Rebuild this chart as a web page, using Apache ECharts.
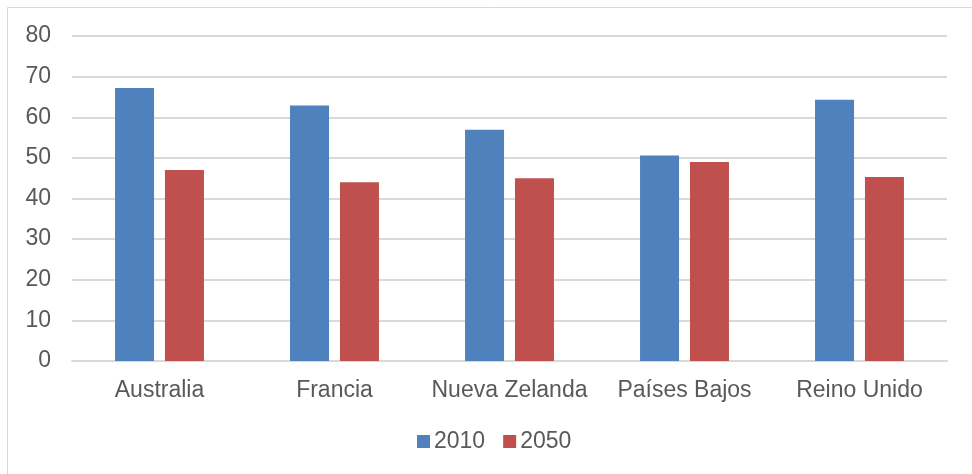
<!DOCTYPE html>
<html>
<head>
<meta charset="utf-8">
<script src="https://cdn.jsdelivr.net/npm/echarts@6/dist/echarts.min.js"></script>
<style>
  html, body { margin: 0; padding: 0; background: #fff; }
  #chart { width: 972px; height: 474px; }
</style>
</head>
<body>
<div id="chart"></div>
<script>
// datos
var categorias = ['Australia', 'Francia', 'Nueva Zelanda', 'Países Bajos', 'Reino Unido'];
var serie2010 = [67.2, 62.9, 56.9, 50.6, 64.3];
var serie2050 = [47.0, 44.0, 45.0, 49.0, 45.3];
var nombres = ['2010', '2050'];

var myChart = echarts.init(document.getElementById('chart'));

var textColor = '#595959';
var fontFam = '"Liberation Sans", Arial, sans-serif';

option = {
    backgroundColor: '#fff',
    animation: false,
    graphic: [
        {
            type: 'rect',
            shape: { x: 7.5, y: 7.5, width: 980, height: 480 },
            style: { fill: 'none', stroke: '#d9d9d9', lineWidth: 1 }
        }
    ],
    legend: {
        data: nombres,
        left: 417,
        top: 430,
        padding: 0,
        itemWidth: 13,
        itemHeight: 13,
        itemGap: 18,
        icon: 'rect',
        textStyle: { color: textColor, fontSize: 23, fontFamily: fontFam, padding: [0, 0, 0, -1] }
    },
    grid: {
        left: 72,
        right: 25,
        top: 36,
        bottom: 113,
        containLabel: false
    },
    xAxis: [
        {
            type: 'category',
            data: categorias,
            axisLine: { show: true, lineStyle: { color: '#d9d9d9', width: 2 } },
            axisTick: { show: false },
            axisLabel: { interval: 0, color: textColor, fontSize: 23, fontFamily: fontFam, margin: 18 }
        }
    ],
    yAxis: [
        {
            type: 'value',
            min: 0,
            max: 80,
            interval: 10,
            axisLine: { show: false },
            axisTick: { show: false },
            splitLine: { lineStyle: { color: '#d9d9d9', width: 2 } },
            axisLabel: { color: textColor, fontSize: 23, fontFamily: fontFam, margin: 21 }
        }
    ],
    series: [
        {
            name: nombres[0],
            type: 'bar',
            data: serie2010,
            barWidth: 39,
            barGap: '28%',
            itemStyle: { color: '#4f81bd' }
        },
        {
            name: nombres[1],
            type: 'bar',
            data: serie2050,
            barWidth: 39,
            itemStyle: { color: '#c0504d' }
        }
    ]
};
myChart.setOption(option);
</script>
</body>
</html>
